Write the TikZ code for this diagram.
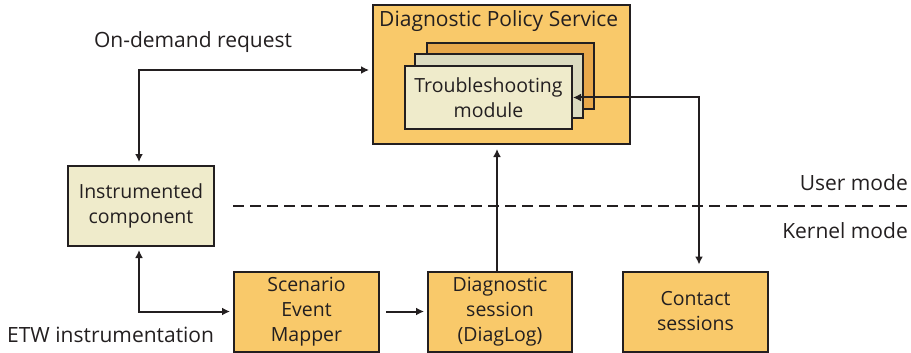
\documentclass[tikz,border=0pt]{standalone}
\usepackage{fontspec}
\setmainfont{Open Sans}
\usetikzlibrary{arrows.meta}
\definecolor{orng}{HTML}{F9C96A}
\definecolor{dorng}{HTML}{E8A84B}
\definecolor{greyc}{HTML}{DCDBC0}
\definecolor{cream}{HTML}{EFEBCB}
\definecolor{txt}{HTML}{231F20}
\tikzset{
  box/.style={draw=txt, line width=2pt, inner sep=0pt, align=center, font=\fontsize{19.5}{25}\selectfont, text=txt},
  lbl/.style={font=\fontsize{21}{25}\selectfont, text=txt, inner sep=0pt},
  conn/.style={draw=txt, line width=2pt, -{Latex[length=8pt,width=8pt]}},
  conn2/.style={draw=txt, line width=2pt, {Latex[length=8pt,width=8pt]}-{Latex[length=8pt,width=8pt]}},
}
\begin{document}
\begin{tikzpicture}[x=1pt,y=-1pt]
\useasboundingbox (0,0) rectangle (911,353);
% Diagnostic Policy Service
\node[box, fill=orng, minimum width=257pt, minimum height=139pt] (dps) at (501.5,74.5) {};
\node[lbl, anchor=west] (dpst) at (379,21) {Diagnostic Policy Service};
\node[box, fill=dorng, minimum width=167pt, minimum height=66pt] (back) at (510.5,76) {};
\node[box, fill=greyc, minimum width=168pt, minimum height=64pt] (mid) at (499,86) {};
\node[box, fill=cream, minimum width=167pt, minimum height=63pt] (front) at (488.5,97.5) {Troubleshooting\\module};
% other boxes
\node[box, fill=cream, minimum width=146pt, minimum height=80pt] (inst) at (141,206) {Instrumented\\component};
\node[box, fill=orng, minimum width=145pt, minimum height=80pt] (scen) at (306.5,311.5) {Scenario\\Event\\Mapper};
\node[box, fill=orng, minimum width=144pt, minimum height=80pt] (diag) at (500,311.5) {Diagnostic\\session\\(DiagLog)};
\node[box, fill=orng, minimum width=145pt, minimum height=80pt] (cont) at (695.5,311.5) {Contact\\sessions};
% labels
\node[lbl] (odr) at (193,42) {On-demand request};
\node[lbl, anchor=west] (etw) at (7,335) {ETW instrumentation};
\node[lbl, anchor=east] (um) at (908,183) {User mode};
\node[lbl, anchor=east] (km) at (908,231) {Kernel mode};
% dashed separator
\coordinate (dl) at (233,206);
\coordinate (dr) at (908,206);
\draw[draw=txt, line width=2pt, dash pattern=on 11pt off 6pt] (dl) -- (dr);
% connectors
\coordinate (odc) at (139,70);
\draw[conn2, shorten <=3pt, shorten >=3pt] (inst.north -| odc) |- (dps.west |- odc);
\draw[conn2, shorten <=3pt, shorten >=3pt] (inst.south -| odc) |- (scen.west);
\draw[conn, shorten <=6pt, shorten >=3pt] (scen.east) -- (diag.west);
\draw[conn, shorten >=4pt] (diag.north -| 497,0) -- (dps.south -| 497,0);
\coordinate (cx) at (699,0);
\draw[conn2, shorten >=6pt] (front.east) -| (cont.north -| cx);
\end{tikzpicture}
\end{document}
